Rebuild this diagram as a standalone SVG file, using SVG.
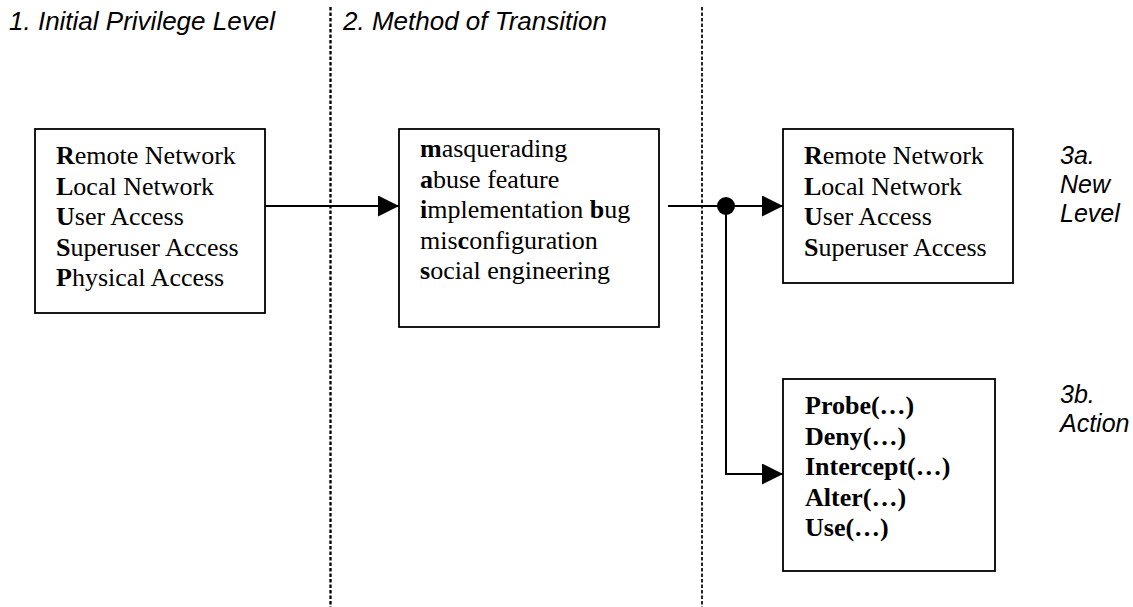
<svg xmlns="http://www.w3.org/2000/svg" width="1133" height="607" viewBox="0 0 1133 607">
<style>
.box{fill:#fff;stroke:#000;stroke-width:1.8}
.t{font-family:"Liberation Serif","Times New Roman",serif;font-size:26px;fill:#000}
.b{font-weight:bold}
.h{font-family:"Liberation Sans",Arial,sans-serif;font-style:italic;font-size:26px;fill:#000}
.s{font-family:"Liberation Sans",Arial,sans-serif;font-style:italic;font-size:25px;fill:#000}
.c{fill:none;stroke:#000;stroke-width:2}
.d{fill:none;stroke:#000;stroke-dasharray:3.5 2}
</style>
<defs>
<marker id="arr" markerUnits="userSpaceOnUse" markerWidth="21" markerHeight="21" refX="21" refY="10.5" orient="auto">
<path d="M0,0 L21,10.5 L0,21 z" fill="#000"/>
</marker>
</defs>
<rect width="1133" height="607" fill="#fff"/>
<g id="dividers">
<line class="d" x1="330.5" y1="7" x2="330.5" y2="607" stroke-width="2.3"/>
<line class="d" x1="702" y1="7" x2="702" y2="607" stroke-width="1.7"/>
</g>
<g id="headers">
<text class="h" x="9" y="30">1. Initial Privilege Level</text>
<text class="h" x="343" y="30">2. Method of Transition</text>
<text class="s" x="1060" y="164">3a.</text>
<text class="s" x="1060" y="193">New</text>
<text class="s" x="1060" y="222">Level</text>
<text class="s" x="1060" y="403">3b.</text>
<text class="s" x="1060" y="432">Action</text>
</g>
<g id="connectors">
<line class="c" x1="265" y1="206" x2="399" y2="206" marker-end="url(#arr)"/>
<line class="c" x1="668" y1="206" x2="783" y2="206" marker-end="url(#arr)"/>
<polyline class="c" points="726,206 726,474 783,474" marker-end="url(#arr)"/>
<circle cx="726" cy="206" r="9" fill="#000"/>
</g>
<g id="node-initial">
<rect class="box" x="35" y="129" width="230" height="184"/>
<text class="t" x="56" y="164"><tspan class="b">R</tspan>emote Network</text>
<text class="t" x="56" y="194.5"><tspan class="b">L</tspan>ocal Network</text>
<text class="t" x="56" y="225"><tspan class="b">U</tspan>ser Access</text>
<text class="t" x="56" y="255.5"><tspan class="b">S</tspan>uperuser Access</text>
<text class="t" x="56" y="286"><tspan class="b">P</tspan>hysical Access</text>
</g>
<g id="node-method">
<rect class="box" x="399" y="129" width="260" height="198"/>
<text class="t" x="420" y="157"><tspan class="b">m</tspan>asquerading</text>
<text class="t" x="420" y="187.5"><tspan class="b">a</tspan>buse feature</text>
<text class="t" x="420" y="218"><tspan class="b">i</tspan>mplementation <tspan class="b">b</tspan>ug</text>
<text class="t" x="420" y="248.5">mis<tspan class="b">c</tspan>onfiguration</text>
<text class="t" x="420" y="279"><tspan class="b">s</tspan>ocial engineering</text>
</g>
<g id="node-newlevel">
<rect class="box" x="783" y="129" width="230" height="154"/>
<text class="t" x="804" y="164"><tspan class="b">R</tspan>emote Network</text>
<text class="t" x="804" y="194.5"><tspan class="b">L</tspan>ocal Network</text>
<text class="t" x="804" y="225"><tspan class="b">U</tspan>ser Access</text>
<text class="t" x="804" y="255.5"><tspan class="b">S</tspan>uperuser Access</text>
</g>
<g id="node-action">
<rect class="box" x="783" y="379" width="212" height="192"/>
<text class="t b" x="805" y="414">Probe(…)</text>
<text class="t b" x="805" y="444.5">Deny(…)</text>
<text class="t b" x="805" y="475">Intercept(…)</text>
<text class="t b" x="805" y="505.5">Alter(…)</text>
<text class="t b" x="805" y="536">Use(…)</text>
</g>
</svg>
